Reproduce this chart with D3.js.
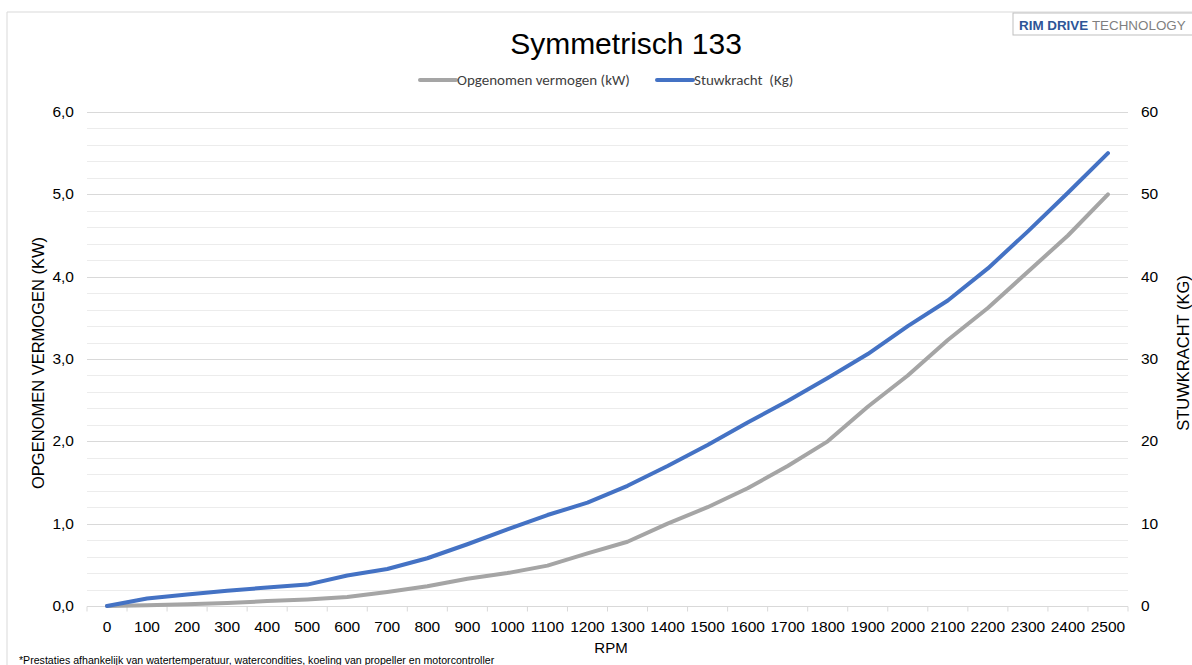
<!DOCTYPE html>
<html>
<head>
<meta charset="utf-8">
<script src="https://cdn.jsdelivr.net/npm/d3@7.9.0/dist/d3.min.js"></script>
<style>
  body { margin: 0; background: #fff; }
  svg { display: block; font-family: "Liberation Sans", Arial, sans-serif; }
  .legend text { font-family: Carlito, Calibri, Lato, sans-serif; }
</style>
</head>
<body>
<svg id="chart" width="1192" height="665"></svg>
<script>
// data
const rpm = [0, 100, 200, 300, 400, 500, 600, 700, 800, 900, 1000, 1100, 1200,
  1300, 1400, 1500, 1600, 1700, 1800, 1900, 2000, 2100, 2200, 2300, 2400, 2500];
const vermogen = [0, 0.01, 0.02, 0.035, 0.06, 0.08, 0.11, 0.17, 0.24, 0.33, 0.40, 0.49, 0.64,
  0.78, 1.0, 1.2, 1.43, 1.7, 2.0, 2.42, 2.8, 3.23, 3.62, 4.06, 4.5, 5.0];
const stuwkracht = [0, 0.9, 1.4, 1.85, 2.25, 2.6, 3.7, 4.5, 5.8, 7.5, 9.3, 11.05, 12.55,
  14.6, 17.0, 19.55, 22.3, 24.9, 27.7, 30.6, 34.0, 37.1, 41.0, 45.5, 50.2, 55.0];
const leftTicks = [0, 1, 2, 3, 4, 5, 6];
const rightTicks = [0, 10, 20, 30, 40, 50, 60];

const svg = d3.select("#chart");
const m = { left: 87, right: 1128, top: 112, bottom: 606 };

// chart frame and logo box
svg.append("path").attr("d", "M7,665V12H1192").attr("fill", "none").attr("stroke", "#d9d9d9");
svg.append("rect").attr("x", 1013).attr("y", 13).attr("width", 200).attr("height", 22)
  .attr("fill", "#fff").attr("stroke", "#bfbfbf");
const logo = svg.append("text").attr("x", 1019).attr("y", 30).attr("font-size", 13.4);
logo.append("tspan").attr("fill", "#2e5597").attr("font-weight", "bold").text("RIM DRIVE ");
logo.append("tspan").attr("fill", "#7f7f7f").text("TECHNOLOGY");

// scales
const x = d3.scaleBand().domain(rpm).range([m.left, m.right]);
const yL = d3.scaleLinear().domain([0, 6]).range([m.bottom, m.top]);
const yR = d3.scaleLinear().domain([0, 60]).range([m.bottom, m.top]);

// gridlines: minor every 0.2, major every 1
const minor = d3.range(0, 6.01, 0.2);
svg.append("g").selectAll("line").data(minor).join("line")
  .attr("x1", m.left).attr("x2", m.right)
  .attr("y1", d => Math.round(yL(d)) + 0.5).attr("y2", d => Math.round(yL(d)) + 0.5)
  .attr("stroke", "#ececec");
svg.append("g").selectAll("line").data(leftTicks).join("line")
  .attr("x1", m.left).attr("x2", m.right)
  .attr("y1", d => Math.round(yL(d)) + 0.5).attr("y2", d => Math.round(yL(d)) + 0.5)
  .attr("stroke", "#d9d9d9");

// x axis with ticks between categories
const xAxis = svg.append("g").attr("transform", `translate(0,${m.bottom + 0.5})`);
xAxis.append("g").selectAll("line").data(d3.range(rpm.length + 1)).join("line")
  .attr("x1", i => m.left + i * x.step()).attr("x2", i => m.left + i * x.step())
  .attr("y1", 0).attr("y2", 5).attr("stroke", "#d9d9d9");
xAxis.selectAll("text").data(rpm).join("text")
  .attr("x", d => x(d) + x.bandwidth() / 2).attr("y", 25)
  .attr("text-anchor", "middle").attr("font-size", 15.5).attr("fill", "#000")
  .text(d => d);

// y axis labels
svg.append("g").selectAll("text").data(leftTicks).join("text")
  .attr("x", 74).attr("y", d => yL(d) + 5).attr("text-anchor", "end")
  .attr("font-size", 15.5).text(d => d3.format(".1f")(d).replace(".", ","));
svg.append("g").selectAll("text").data(rightTicks).join("text")
  .attr("x", 1141).attr("y", d => yR(d) + 5)
  .attr("font-size", 15.5).text(d => d);

// lines
const lineL = d3.line().x((d, i) => x(rpm[i]) + x.bandwidth() / 2).y(d => yL(d));
const lineR = d3.line().x((d, i) => x(rpm[i]) + x.bandwidth() / 2).y(d => yR(d));
svg.append("path").datum(vermogen).attr("d", lineL)
  .attr("fill", "none").attr("stroke", "#a5a5a5").attr("stroke-width", 4)
  .attr("stroke-linejoin", "round").attr("stroke-linecap", "round");
svg.append("path").datum(stuwkracht).attr("d", lineR)
  .attr("fill", "none").attr("stroke", "#4472c4").attr("stroke-width", 4)
  .attr("stroke-linejoin", "round").attr("stroke-linecap", "round");

// titles
svg.append("text").attr("x", 626).attr("y", 54).attr("text-anchor", "middle")
  .attr("font-size", 30).text("Symmetrisch 133");
svg.append("text").attr("x", 611).attr("y", 653).attr("text-anchor", "middle")
  .attr("font-size", 15).text("RPM");
svg.append("text").attr("transform", "translate(44,363) rotate(-90)")
  .attr("text-anchor", "middle").attr("font-size", 16.5).text("OPGENOMEN VERMOGEN (KW)");
svg.append("text").attr("transform", "translate(1189,353) rotate(-90)")
  .attr("text-anchor", "middle").attr("font-size", 16.5).text("STUWKRACHT (KG)");
svg.append("text").attr("x", 19).attr("y", 664).attr("font-size", 10.6)
  .text("*Prestaties afhankelijk van watertemperatuur, watercondities, koeling van propeller en motorcontroller");

// legend
const legendItems = [
  { label: "Opgenomen vermogen (kW)", color: "#a5a5a5", x: 420 },
  { label: "Stuwkracht  (Kg)", color: "#4472c4", x: 657 }
];
const lg = svg.append("g").attr("class", "legend");
legendItems.forEach(d => {
  lg.append("line").attr("x1", d.x).attr("x2", d.x + 36).attr("y1", 80).attr("y2", 80)
    .attr("stroke", d.color).attr("stroke-width", 4).attr("stroke-linecap", "round");
  lg.append("text").attr("x", d.x + 37).attr("y", 85).attr("font-size", 15)
    .attr("fill", "#404040").attr("xml:space", "preserve").text(d.label);
});
</script>
</body>
</html>
